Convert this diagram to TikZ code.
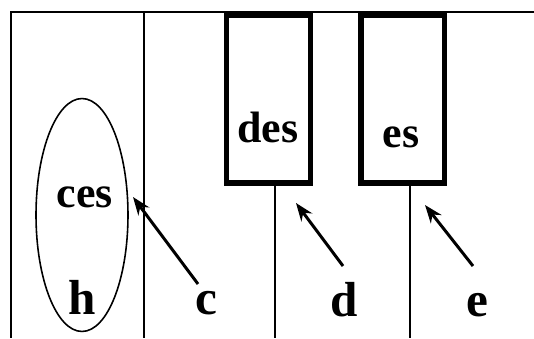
\documentclass[tikz,border=0pt]{standalone}
\usepackage{fontspec}
\setmainfont{Liberation Serif}
\usetikzlibrary{positioning,arrows.meta,calc,shapes.geometric}

\begin{document}
\begin{tikzpicture}[
  x=0.02cm, y=-0.02cm,
  frame/.style={line width=1.4pt},
  keyline/.style={line width=1pt},
  blackkey/.style={draw, line width=3.4pt, minimum width=1.68cm, minimum height=3.36cm, inner sep=0pt},
  noteset/.style={font=\fontsize{25}{30}\selectfont\bfseries, inner sep=0pt, anchor=base},
  keyname/.style={font=\fontsize{28}{34}\selectfont\bfseries, inner sep=0pt, anchor=base},
  pointer/.style={line width=1.7pt, -{Stealth[length=0.36cm, width=0.27cm]}}]
\useasboundingbox (0,0) rectangle (534,338);
% white keys
\draw[frame] (534,12) -- (11,12) -- (11,338);
\draw[frame] (144,12) -- (144,338);
% black keys
\node[blackkey] (deskey) at (268.5,99) {};
\node[blackkey] (eskey) at (402.5,99) {};
\draw[keyline] (275,186) -- (275,338);
\draw[keyline] (410,186) -- (410,338);
% enharmonic ring
\node[draw, ellipse, line width=0.9pt, minimum width=1.84cm, minimum height=4.66cm, inner sep=0pt] (hring) at (82,215) {};
\node[noteset] (ces) at (85,207) {ces};
\node[keyname] (h) at (82,314) {h};
\node[keyname] (c) at (206,314) {c};
\node[keyname] (d) at (344,316) {d};
\node[keyname] (e) at (477,316) {e};
% names on the black keys
\node[noteset] (des) at (268,142) {des};
\node[noteset] (es) at (401,147) {es};
% arrows
\coordinate (ctail) at (198,284);
\coordinate (ctip) at (133,197);
\coordinate (dtail) at (343,266);
\coordinate (dtip) at (296,203);
\coordinate (etail) at (473,266);
\coordinate (etip) at (425,205);
\foreach \k in {c,d,e} \draw[pointer] (\k tail) -- (\k tip);
\end{tikzpicture}
\end{document}
